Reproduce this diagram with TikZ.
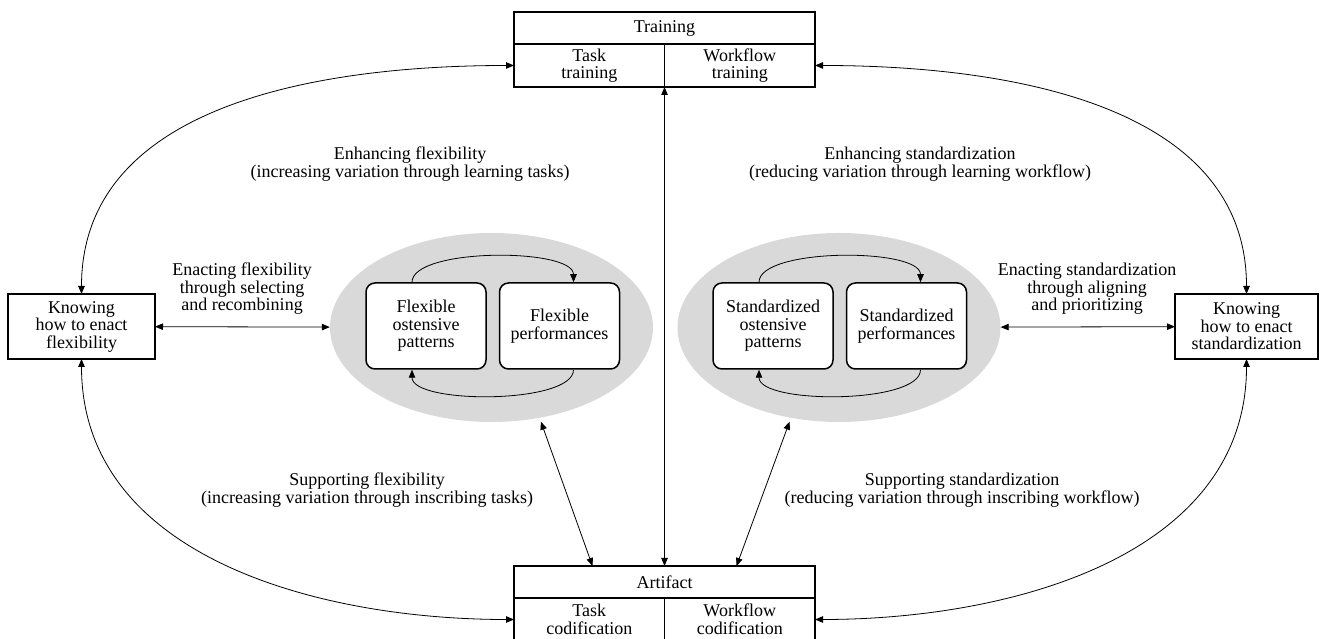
\documentclass[tikz,border=0pt]{standalone}
\usepackage{fontspec}
\setmainfont{Liberation Serif}
\usetikzlibrary{arrows.meta, positioning, shapes.geometric}
\definecolor{cloudGray}{gray}{0.85}

\begin{document}
\begin{tikzpicture}[x=1pt, y=1pt, >={Triangle[length=8pt, width=6.5pt]},
    every node/.style={font=\fontsize{18}{17.5}\selectfont, align=center},
    cell/.style={draw, line width=1.5pt, inner sep=0pt, outer sep=0pt, minimum width=150.5pt},
    knowBox/.style={draw, line width=1.5pt, inner sep=0pt, outer sep=0pt, minimum height=65pt},
    routine/.style={draw, line width=1.5pt, rounded corners=9pt, inner sep=0pt, minimum width=120pt, minimum height=86pt, fill=white},
    routineCloud/.style={ellipse, fill=cloudGray, inner sep=0pt, minimum width=323pt, minimum height=189pt},
    twoWay/.style={<->, line width=0.8pt},
    loopArrow/.style={->, line width=0.8pt}]

    \useasboundingbox (0,0) rectangle (1321,639);

    % training and artifact
    \node[cell, minimum width=301pt, minimum height=32pt] (train) at (664.5,611) {Training};
    \node[cell, minimum height=43pt, anchor=north east] (taskTrain) at (train.south) {Task\\training};
    \node[cell, minimum height=43pt, anchor=north west] (flowTrain) at (train.south) {Workflow\\training};

    \node[cell, minimum width=301pt, minimum height=32pt] (art) at (664.5,57) {Artifact};
    \node[cell, minimum height=43pt, anchor=north east] (taskArt) at (art.south) {Task\\codification};
    \node[cell, minimum height=43pt, anchor=north west] (flowArt) at (art.south) {Workflow\\codification};

    % knowing
    \node[knowBox, minimum width=147pt] (knowFlex) at (81.5,312.5) {Knowing\\how to enact\\flexibility};
    \node[knowBox, minimum width=143pt] (knowStd) at (1246.5,312.5) {Knowing\\how to enact\\standardization};

    % routines
    \node[routineCloud] (flexCloud) at (491.5,311.5) {};
    \node[routineCloud] (stdCloud) at (839,311.5) {};
    \node[routine] (flexOst) at (426,313) {Flexible\\ostensive\\patterns};
    \node[routine, right=12pt of flexOst] (flexPerf) {Flexible\\performances};
    \node[routine] (stdOst) at (773,313) {Standardized\\ostensive\\patterns};
    \node[routine, right=12pt of stdOst] (stdPerf) {Standardized\\performances};

    \draw[loopArrow] ([xshift=-14pt]flexOst.north) to[out=90, in=90, looseness=0.55] ([xshift=14pt]flexPerf.north);
    \draw[loopArrow] ([xshift=14pt]flexPerf.south) to[out=-90, in=-90, looseness=0.55] ([xshift=-14pt]flexOst.south);
    \draw[loopArrow] ([xshift=-14pt]stdOst.north) to[out=90, in=90, looseness=0.55] ([xshift=14pt]stdPerf.north);
    \draw[loopArrow] ([xshift=14pt]stdPerf.south) to[out=-90, in=-90, looseness=0.55] ([xshift=-14pt]stdOst.south);

    % connectors
    \draw[twoWay] (knowFlex.north) to[out=90, in=180] (taskTrain.west);
    \draw[twoWay] (knowFlex.south) to[out=-90, in=180] (taskArt.west);
    \draw[twoWay] (knowStd.north) to[out=90, in=0] (flowTrain.east);
    \draw[twoWay] (knowStd.south) to[out=-90, in=0] (flowArt.east);
    \draw[twoWay] (knowFlex) -- (flexCloud);
    \draw[twoWay] (stdCloud) -- (knowStd);
    \draw[twoWay] (taskTrain.south east) -- (art.north);
    \draw[twoWay, shorten <=4pt] (flexCloud.-62) -- ([xshift=-72pt]art.north);
    \draw[twoWay, shorten <=4pt] (stdCloud.-118) -- ([xshift=72pt]art.north);

    % labels
    \node (enhFlex) at (410,475) {Enhancing flexibility\\(increasing variation through learning tasks)};
    \node (enhStd) at (920,475) {Enhancing standardization\\(reducing variation through learning workflow)};
    \node (enaFlex) at (242,350) {Enacting flexibility\\through selecting\\and recombining};
    \node (enaStd) at (1087,350) {Enacting standardization\\through aligning\\and prioritizing};
    \node (supFlex) at (367,149) {Supporting flexibility\\(increasing variation through inscribing tasks)};
    \node (supStd) at (962,149) {Supporting standardization\\(reducing variation through inscribing workflow)};
\end{tikzpicture}
\end{document}
